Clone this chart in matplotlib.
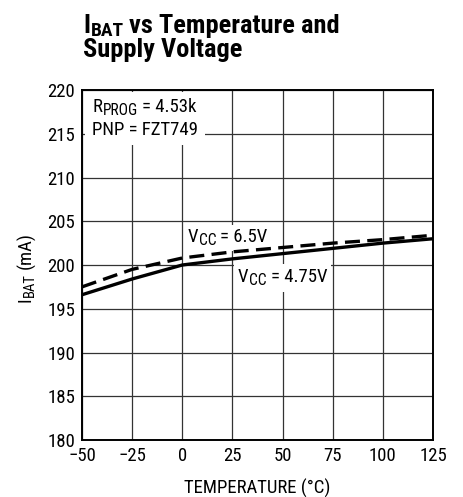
import matplotlib
matplotlib.use("Agg")
import matplotlib.pyplot as plt
from matplotlib.ticker import FixedLocator
from matplotlib.transforms import IdentityTransform, Bbox
from matplotlib.patches import Rectangle

FONT = ['Roboto Condensed', 'Archivo Narrow', 'Liberation Sans', 'DejaVu Sans']
plt.rcParams['font.family'] = FONT

temp = [-50, -25, 0, 25, 50, 75, 100, 125]
ibat_475 = [196.6, 198.4, 200.0, 200.7, 201.3, 201.9, 202.5, 203.0]
ibat_65 = [197.5, 199.5, 200.8, 201.5, 202.0, 202.5, 202.9, 203.4]

xticks = [-50, -25, 0, 25, 50, 75, 100, 125]
xticklabels = ['\u221250', '\u221225', '0', '25', '50', '75', '100', '125']
yticks = [180, 185, 190, 195, 200, 205, 210, 215, 220]

W, H, DPI = 463, 497, 100
fig = plt.figure(figsize=(W / DPI, H / DPI), dpi=DPI)
ax = fig.add_axes([82/W, 1-440/H, (433-82)/W, (440-90)/H])

ax.plot(temp, ibat_475, color='black', lw=2.4, solid_capstyle='butt', zorder=3)
ax.plot(temp, ibat_65, color='black', lw=2.4, dashes=(4.5, 2.2), zorder=3)

ax.set_xlim(-50, 125)
ax.set_ylim(180, 220)
ax.xaxis.set_major_locator(FixedLocator(xticks))
ax.set_xticklabels(xticklabels)
ax.yaxis.set_major_locator(FixedLocator(yticks))
ax.grid(True, color='#333333', lw=0.9)
ax.set_axisbelow(True)
for s in ax.spines.values():
    s.set_linewidth(1.4)
ax.tick_params(length=0, labelsize=13.5, pad=5)
ax.set_xlabel('TEMPERATURE (°C)', fontsize=13.5, labelpad=10)

renderer = fig.canvas.get_renderer()


def runs(target, x, y, pieces, rotation=0, weight='normal', zorder=2):
    """Draw text pieces along a shared baseline starting at pixel (x, y)."""
    off = 0.0
    exts = []
    for text, size, dy, gap in pieces:
        off += gap
        if rotation == 0:
            pos = (x + off, y - dy)
        else:
            pos = (x + dy, y + off)
        t = target.text(pos[0], pos[1], text, fontsize=size, fontweight=weight,
                        ha='left', va='baseline', rotation=rotation,
                        rotation_mode='anchor', transform=IdentityTransform(),
                        zorder=zorder)
        ext = t.get_window_extent(renderer)
        exts.append(ext)
        off += ext.width if rotation == 0 else ext.height
    return Bbox.union(exts)


def px(xd, yd):
    return ax.transData.transform((xd, yd))


def backdrop(bb, padx=5, pady=4):
    ax.add_patch(Rectangle((bb.x0 - padx, bb.y0 - pady), bb.width + 2 * padx,
                           bb.height + 2 * pady, transform=IdentityTransform(),
                           facecolor='white', edgecolor='none', zorder=1.9))


# annotation box top-left
x0, y0 = px(-45, 217.49)
b1 = runs(ax, x0, y0, [('R', 13.5, 0, 0), ('PROG', 11.2, 2.7, 0.5), ('= 4.53k', 13.5, 0, 4)])
x0, y0 = px(-45, 214.86)
b2 = runs(ax, x0, y0, [('PNP = FZT749', 13.5, 0, 0)])
backdrop(Bbox.union([b1, b2]), padx=7, pady=6)

# curve labels
x0, y0 = px(2.8, 202.6)
backdrop(runs(ax, x0, y0, [('V', 13.5, 0, 0), ('CC', 11.2, 2.7, 0.5), ('= 6.5V', 13.5, 0, 4)]), 4, 3)
x0, y0 = px(27.8, 198.06)
backdrop(runs(ax, x0, y0, [('V', 13.5, 0, 0), ('CC', 11.2, 2.7, 0.5), ('= 4.75V', 13.5, 0, 4)]), 4, 4)

# y label (rotated)
runs(fig, 31, H - 302, [('I', 13.5, 0, 0), ('BAT', 10.5, 2.7, 0.5), ('(mA)', 13.5, 0, 4)], rotation=90)

# title
runs(fig, 83, H - 33, [('I', 19, 0, 0), ('BAT', 14, 2.7, 0.5), ('vs Temperature and', 19, 0, 5)], weight='bold')
runs(fig, 83, H - 57, [('Supply Voltage', 19, 0, 0)], weight='bold')

fig.savefig('out.png', dpi=DPI)
